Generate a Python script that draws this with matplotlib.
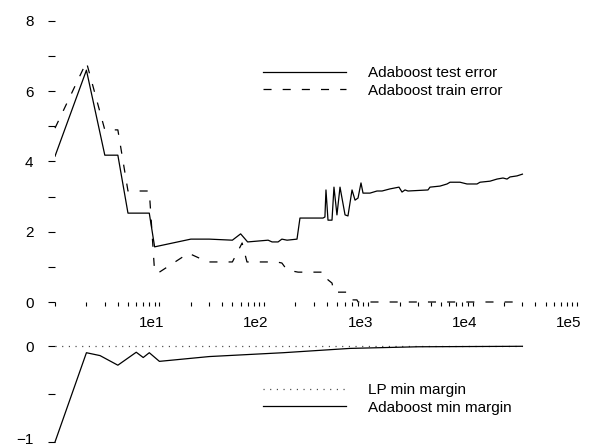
import matplotlib
matplotlib.use("Agg")
import matplotlib.pyplot as plt
from matplotlib.transforms import ScaledTranslation

plt.rcParams['font.family'] = ['Liberation Sans', 'DejaVu Sans']
plt.rcParams['font.size'] = 11
plt.rcParams['lines.scale_dashes'] = False

# Adaboost errors (percent) against number of rounds
test_rounds = [1, 2, 3, 4, 5, 8, 9, 20, 30, 50, 60, 70, 110, 120, 137, 149, 167, 208,
               222, 369, 385, 394, 412, 450, 470, 502, 537, 600, 640, 700, 748, 799,
               853, 892, 1040, 1214, 1357, 1617, 1972, 2108, 2251, 2405, 3738, 3908,
               4874, 5688, 6080, 7576, 8840, 11020, 11780, 14690, 17130, 19550,
               21370, 22820, 26620, 30000]
test_err = [4.15, 6.6, 4.18, 4.18, 2.53, 2.53, 1.57, 1.79, 1.79, 1.76, 1.94, 1.71, 1.76,
            1.71, 1.71, 1.79, 1.76, 1.79, 2.39, 2.39, 2.42, 3.19, 2.33, 2.33, 3.27, 2.48,
            3.27, 2.48, 2.45, 3.19, 2.90, 2.96, 3.39, 3.10, 3.10, 3.16, 3.16, 3.22, 3.27,
            3.13, 3.19, 3.16, 3.19, 3.27, 3.30, 3.36, 3.41, 3.41, 3.36, 3.36, 3.41, 3.44,
            3.50, 3.53, 3.50, 3.56, 3.59, 3.64]

train_rounds = [1, 2, 3, 4, 5, 8, 9, 10, 19, 29, 50, 62, 69, 133, 149, 167, 213, 385,
                412, 450, 470, 640, 700, 780, 800, 30000]
train_err = [4.95, 6.83, 4.9, 4.9, 3.16, 3.16, 0.85, 0.85, 1.39, 1.14, 1.14, 1.68, 1.14,
             1.14, 1.11, 0.91, 0.85, 0.85, 0.63, 0.54, 0.28, 0.28, 0.06, 0.06, 0.0, 0.0]

# minimum margins
margin_rounds = [1, 2, 2.7, 4, 6, 7, 8, 10, 30, 153, 670, 3000, 30000]
ada_margin = [-1.0, -0.07, -0.1, -0.2, -0.065, -0.12, -0.07, -0.16, -0.11, -0.07,
              -0.025, -0.008, -0.003]
lp_rounds = [1, 30000]
lp_margin = [0.0, 0.0]

x_major = [1, 10, 100, 1000, 10000, 100000]
x_major_labels = ['', '1e1', '1e2', '1e3', '1e4', '1e5']
x_minor = [m * 10 ** k for k in range(5) for m in range(2, 10)]
top_yticks = list(range(9))
top_ylabels = ['0', '', '2', '', '4', '', '6', '', '8']
bot_yticks = [-1, -0.5, 0]
bot_ylabels = ['\u22121', '', '0']

fig = plt.figure(figsize=(5.93, 4.47), dpi=100)
ax1 = fig.add_axes([55 / 593, 1 - 302 / 447, 522 / 593, 281 / 447])
ax2 = fig.add_axes([55 / 593, 1 - 442 / 447, 522 / 593, 96 / 447])

dash = (5.8, 8.0)
dot = (0.8, 4.0)

ax1.plot(test_rounds, test_err, color='black', lw=0.9, label='Adaboost test error')
ax1.plot(train_rounds, train_err, color='black', lw=0.9, dashes=dash,
         label='Adaboost train error', clip_on=False)
ax1.set_xscale('log')
ax1.set_xlim(1, 1e5)
ax1.set_ylim(0, 8)

ax2.plot(lp_rounds, lp_margin, color='0.25', lw=0.9, dashes=dot,
         label='LP min margin', clip_on=False)
ax2.plot(margin_rounds, ada_margin, color='black', lw=0.9, label='Adaboost min margin',
         clip_on=False)
ax2.set_xscale('log')
ax2.set_xlim(1, 1e5)
ax2.set_ylim(-1, 0)

for ax in (ax1, ax2):
    for s in ax.spines.values():
        s.set_visible(False)
    ax.tick_params(axis='y', direction='out', length=5, width=0.8, pad=10.5,
                   labelsize=11)

ax1.set_yticks(top_yticks)
ax1.set_yticklabels(top_ylabels)
ax1.set_xticks(x_major)
ax1.set_xticklabels(x_major_labels)
ax1.set_xticks(x_minor, minor=True)
ax1.set_xticklabels([], minor=True)
ax1.tick_params(axis='x', which='both', direction='out', length=3, width=0.8, pad=7,
                labelsize=11)
shift = ScaledTranslation(-8 / 100, 0, fig.dpi_scale_trans)
for lab in ax1.get_xticklabels():
    lab.set_transform(lab.get_transform() + shift)

ax2.set_yticks(bot_yticks)
ax2.set_yticklabels(bot_ylabels)
ax2.set_xticks([])
ax2.set_xticks([], minor=True)
# keep the lowest label inside the figure
lift = ScaledTranslation(0, 4 / 100, fig.dpi_scale_trans)
low = ax2.get_yticklabels()[0]
low.set_transform(low.get_transform() + lift)

leg_kw = dict(frameon=False, loc='upper left', borderpad=0, borderaxespad=0,
              handlelength=5.4, handletextpad=1.5, labelspacing=0.25, fontsize=11)
ax1.legend(bbox_to_anchor=(263 / 593, 1 - 66 / 447), bbox_transform=fig.transFigure,
           **leg_kw)
ax2.legend(bbox_to_anchor=(263 / 593, 1 - 383 / 447), bbox_transform=fig.transFigure,
           **leg_kw)

fig.savefig('out.png', dpi=100)
